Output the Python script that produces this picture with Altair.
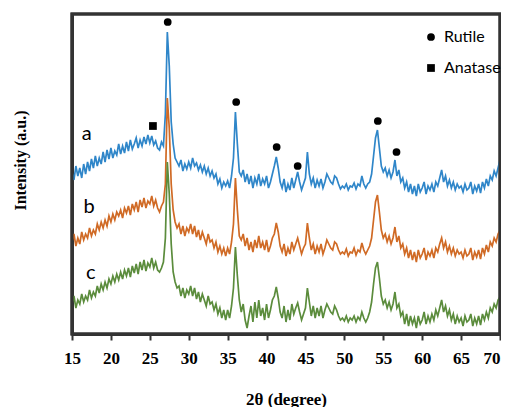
import altair as alt
import pandas as pd

# 2-theta grid, 0.25 degree steps from 15 to 70
two_theta = [15 + 0.25 * i for i in range(221)]

# trace a (blue), one row per degree: .00 .25 .50 .75
trace_a = [
    162, 154, 168, 158,  # 15
    166, 156, 170, 160,  # 16
    172, 163, 175, 166,  # 17
    178, 168, 176, 170,  # 18
    182, 172, 184, 175,  # 19
    186, 176, 183, 179,  # 20
    190, 180, 188, 181,  # 21
    192, 183, 194, 185,  # 22
    190, 196, 186, 194,  # 23
    188, 197, 190, 199,  # 24
    191, 198, 189, 193,  # 25
    186, 184, 192, 188,  # 26
    220, 302, 268, 212,  # 27
    190, 176, 172, 168,  # 28
    174, 163, 170, 165,  # 29
    172, 166, 176, 168,  # 30
    171, 164, 169, 162,  # 31
    168, 160, 166, 158,  # 32
    163, 156, 160, 150,  # 33
    155, 146, 152, 148,  # 34
    153, 146, 158, 176,  # 35
    222, 190, 162, 158,  # 36
    164, 152, 160, 150,  # 37
    158, 146, 156, 150,  # 38
    160, 148, 155, 150,  # 39
    158, 146, 152, 160,  # 40
    168, 177, 166, 152,  # 41
    146, 155, 142, 150,  # 42
    144, 156, 146, 154,  # 43
    162, 152, 144, 150,  # 44
    156, 182, 160, 150,  # 45
    156, 146, 154, 148,  # 46
    155, 146, 152, 160,  # 47
    156, 152, 150, 158,  # 48
    156, 150, 145, 148,  # 49
    146, 150, 144, 148,  # 50
    147, 151, 145, 150,  # 51
    148, 158, 150, 146,  # 52
    150, 152, 160, 178,  # 53
    196, 204, 186, 168,  # 54
    162, 166, 158, 164,  # 55
    156, 162, 174, 158,  # 56
    164, 152, 156, 146,  # 57
    152, 142, 150, 140,  # 58
    148, 138, 150, 142,  # 59
    146, 152, 140, 148,  # 60
    144, 150, 142, 152,  # 61
    148, 156, 164, 152,  # 62
    158, 148, 154, 146,  # 63
    152, 144, 150, 146,  # 64
    148, 142, 150, 144,  # 65
    146, 152, 140, 148,  # 66
    143, 150, 141, 152,  # 67
    146, 155, 148, 158,  # 68
    154, 163, 158, 166,  # 69
    174,                 # 70
]

# trace b (orange)
trace_b = [
    92, 100, 88, 96,     # 15
    90, 102, 94, 100,    # 16
    96, 106, 98, 104,    # 17
    100, 110, 104, 112,  # 18
    106, 114, 108, 118,  # 19
    112, 120, 114, 122,  # 20
    118, 124, 116, 126,  # 21
    121, 128, 119, 130,  # 22
    124, 132, 122, 134,  # 23
    127, 136, 126, 133,  # 24
    130, 138, 128, 134,  # 25
    126, 122, 128, 132,  # 26
    150, 236, 206, 150,  # 27
    124, 112, 106, 110,  # 28
    100, 108, 98, 106,   # 29
    102, 110, 100, 108,  # 30
    97, 104, 94, 102,    # 31
    96, 90, 100, 92,     # 32
    94, 86, 92, 82,      # 33
    88, 80, 86, 78,      # 34
    86, 80, 92, 110,     # 35
    156, 124, 98, 94,    # 36
    100, 88, 96, 84,     # 37
    92, 82, 94, 86,      # 38
    98, 86, 92, 84,      # 39
    94, 82, 88, 96,      # 40
    100, 111, 102, 88,   # 41
    82, 90, 78, 86,      # 42
    80, 92, 84, 90,      # 43
    96, 88, 80, 86,      # 44
    90, 111, 96, 84,     # 45
    90, 80, 88, 82,      # 46
    90, 80, 86, 94,      # 47
    90, 86, 84, 92,      # 48
    90, 84, 80, 82,      # 49
    80, 85, 78, 82,      # 50
    81, 86, 79, 84,      # 51
    82, 91, 84, 80,      # 52
    84, 88, 96, 114,     # 53
    132, 139, 122, 104,  # 54
    96, 100, 92, 98,     # 55
    90, 96, 107, 92,     # 56
    98, 86, 90, 80,      # 57
    86, 76, 84, 74,      # 58
    82, 72, 84, 76,      # 59
    80, 86, 74, 82,      # 60
    78, 84, 76, 86,      # 61
    82, 90, 96, 86,      # 62
    92, 82, 88, 80,      # 63
    86, 78, 84, 80,      # 64
    82, 76, 84, 78,      # 65
    80, 86, 74, 82,      # 66
    77, 84, 75, 86,      # 67
    80, 89, 82, 92,      # 68
    88, 96, 92, 100,     # 69
    104,                 # 70
]

# trace c (green)
trace_c = [
    30, 38, 26, 34,      # 15
    30, 40, 32, 38,      # 16
    34, 44, 36, 42,      # 17
    38, 48, 41, 50,      # 18
    44, 52, 46, 55,      # 19
    50, 58, 52, 60,      # 20
    54, 62, 55, 64,      # 21
    58, 66, 57, 68,      # 22
    61, 70, 60, 72,      # 23
    64, 74, 63, 71,      # 24
    67, 76, 66, 72,      # 25
    64, 62, 66, 72,      # 26
    96, 172, 140, 90,    # 27
    62, 52, 46, 48,      # 28
    38, 46, 36, 44,      # 29
    40, 48, 38, 46,      # 30
    35, 42, 32, 40,      # 31
    34, 28, 38, 30,      # 32
    32, 24, 30, 20,      # 33
    26, 16, 24, 14,      # 34
    24, 16, 28, 46,      # 35
    87, 58, 34, 22,      # 36
    30, 14, 6, 18,       # 37
    28, 12, 32, 16,      # 38
    34, 18, 26, 14,      # 39
    30, 16, 24, 34,      # 40
    38, 47, 36, 22,      # 41
    16, 28, 12, 24,      # 42
    14, 30, 20, 26,      # 43
    31, 22, 14, 20,      # 44
    26, 46, 32, 18,      # 45
    28, 16, 26, 18,      # 46
    28, 16, 24, 30,      # 47
    26, 22, 20, 28,      # 48
    24, 18, 14, 16,      # 49
    13, 18, 12, 16,      # 50
    14, 18, 12, 17,      # 51
    14, 22, 16, 12,      # 52
    16, 22, 32, 50,      # 53
    66, 72, 56, 38,      # 54
    30, 34, 26, 32,      # 55
    24, 30, 42, 26,      # 56
    30, 18, 22, 10,      # 57
    20, 8, 18, 10,       # 58
    16, 6, 18, 10,       # 59
    14, 22, 10, 18,      # 60
    12, 20, 14, 24,      # 61
    18, 26, 34, 22,      # 62
    28, 18, 24, 14,      # 63
    20, 10, 18, 12,      # 64
    16, 8, 18, 12,       # 65
    14, 20, 8, 16,       # 66
    10, 18, 9, 20,       # 67
    14, 22, 16, 26,      # 68
    22, 30, 26, 34,      # 69
    37,                  # 70
]

series_names = ["a", "b", "c"]
series_colors = ["#2F86C9", "#D06A25", "#5B8C3C"]

# phase markers
marker_phase = ["Rutile", "Anatase", "Rutile", "Rutile", "Rutile", "Rutile", "Rutile"]
marker_x = [27.3, 25.4, 36.1, 41.3, 44.0, 54.3, 56.7]
marker_y = [312, 208, 232, 187, 168, 213, 182]

# series letter labels
label_text = ["a", "b", "c"]
label_x = [16.9, 17.2, 17.4]
label_y = [200, 127, 61]

x_ticks = [15, 20, 25, 30, 35, 40, 45, 50, 55, 60, 65, 70]

W, H = 428, 320
INK = "#333333"

rows = []
for name, vals in zip(series_names, [trace_a, trace_b, trace_c]):
    n = min(len(vals), len(two_theta))
    for i in range(n):
        rows.append({"x": two_theta[i], "y": vals[i], "s": name})
lines_df = pd.DataFrame(rows)
markers_df = pd.DataFrame({"x": marker_x, "y": marker_y, "phase": marker_phase})
labels_df = pd.DataFrame({"x": label_x, "y": label_y, "t": label_text})

xscale = alt.Scale(domain=[15, 70], nice=False)
yscale = alt.Scale(domain=[0, 320], nice=False, zero=False)

xaxis = alt.Axis(
    values=x_ticks, title="2θ (degree)", grid=False,
    domain=True, domainColor=INK, domainWidth=3,
    ticks=True, tickSize=6, tickColor=INK, tickWidth=2,
    labelFont="Liberation Serif", labelFontSize=17, labelFontWeight="bold",
    labelColor="black", labelPadding=10, labelFlush=False, labelOverlap=False,
    labelAlign={"condition": {"test": "datum.value >= 70", "value": "right"}, "value": "center"},
    titleFont="Liberation Serif", titleFontSize=17, titleFontWeight="bold",
    titleColor="black", titleY=65, titleBaseline="middle",
)
yaxis = alt.Axis(
    title="Intensity (a.u.)", grid=False,
    domain=True, domainColor=INK, domainWidth=3, ticks=False, labels=False,
    titleFont="Liberation Serif", titleFontSize=16, titleFontWeight="bold",
    titleColor="black", titleX=-52, titleY=146, titleBaseline="middle",
)

lines = alt.Chart(lines_df).mark_line(strokeWidth=1.7).encode(
    x=alt.X("x:Q", scale=xscale, axis=xaxis),
    y=alt.Y("y:Q", scale=yscale, axis=yaxis),
    color=alt.Color("s:N", scale=alt.Scale(domain=series_names, range=series_colors), legend=None),
    detail="s:N",
)

markers = alt.Chart(markers_df).mark_point(filled=True, color="black", opacity=1, size=60).encode(
    x=alt.X("x:Q", scale=xscale, axis=xaxis),
    y=alt.Y("y:Q", scale=yscale, axis=yaxis),
    shape=alt.Shape(
        "phase:N",
        scale=alt.Scale(domain=["Rutile", "Anatase"], range=["circle", "square"]),
        legend=alt.Legend(
            orient="none", legendX=351, legendY=15, title=None,
            labelFont="Lato", labelFontSize=16, labelColor="black",
            symbolSize=60, symbolFillColor="black", symbolStrokeWidth=0,
            rowPadding=15, padding=0, labelOffset=5,
        ),
    ),
)

labels = alt.Chart(labels_df).mark_text(font="Lato", fontSize=20, color="black").encode(
    x=alt.X("x:Q", scale=xscale, axis=xaxis),
    y=alt.Y("y:Q", scale=yscale, axis=yaxis),
    text="t:N",
)

frame = alt.Chart(pd.DataFrame({"k": [0]})).mark_rect(
    fill=None, stroke=INK, strokeWidth=3
).encode(
    x=alt.value(0), x2=alt.value(W), y=alt.value(0), y2=alt.value(H)
)

chart = alt.layer(lines, markers, labels, frame).properties(
    width=W, height=H,
    autosize=alt.AutoSizeParams(type="none"),
    padding={"left": 64, "top": 6, "right": 1, "bottom": 76},
).configure_view(stroke=INK, strokeWidth=3)

chart.save("out.html", embed_options={"renderer": "svg", "actions": False})
